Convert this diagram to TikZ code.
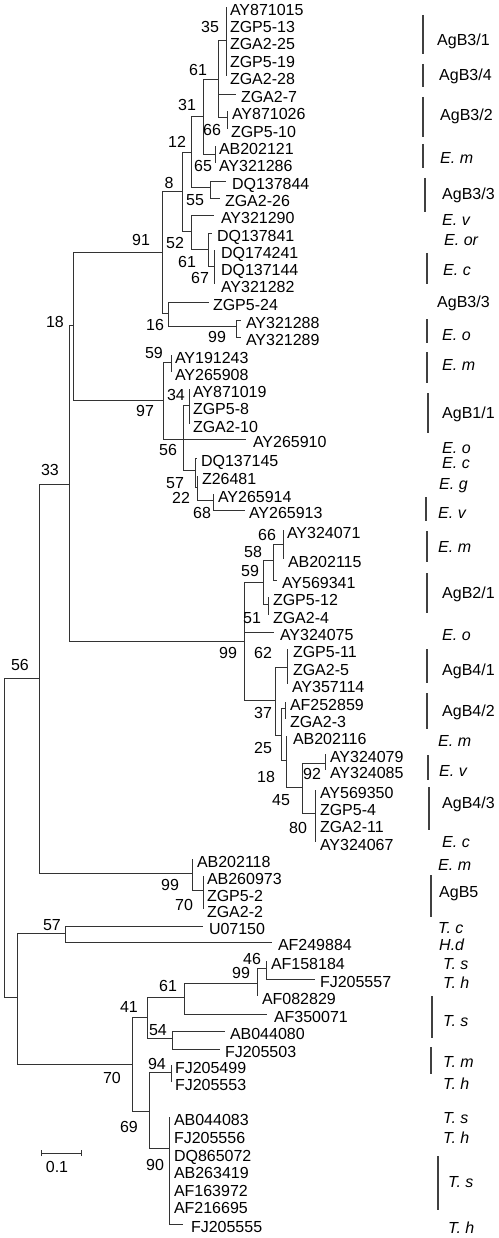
\documentclass[tikz,border=0pt]{standalone}
\usepackage{fontspec}
\setmainfont{Liberation Sans}
\newcommand\lf[5]{\coordinate (#1) at (#2,#3-3); \node[leaf] (#1t) at (#4,#3) {#5};}
\newcommand\brs[2]{\foreach \c in {#2}{\draw[br] (#1) |- (\c);}}
\newcommand\bs[3]{\node[boot] at (#1,#2) {#3};}
\newcommand\gl[4]{\node[#4] at (#1,#2) {#3};}
\newcommand\gb[3]{\draw[bar] (#1,#2) -- (#1,#3);}
\tikzset{
 br/.style={draw=black!80, line width=0.9pt},
 leaf/.style={anchor=west, inner sep=0pt, outer sep=0pt, text height=11.5pt, text depth=0pt, font=\fontsize{16}{18}\selectfont},
 boot/.style={inner sep=0pt, text height=11.5pt, text depth=0pt, font=\fontsize{16}{18}\selectfont},
 grp/.style={anchor=west, inner sep=0pt, text height=11.5pt, text depth=0pt, font=\fontsize{16}{18}\selectfont},
 grpi/.style={grp, font=\fontsize{16}{18}\selectfont\itshape},
 bar/.style={draw=black!75, line width=1.4pt}
}
\begin{document}
\begin{tikzpicture}[x=1pt,y=-1pt]
\useasboundingbox (0,0) rectangle (498,1238);
% internal nodes
\coordinate (U) at (4,837);
\coordinate (S) at (39,678);
\coordinate (Q) at (69,484);
\coordinate (O) at (73,325);
\coordinate (L) at (162,252);
\coordinate (H) at (182,191);
\coordinate (F) at (191,152);
\coordinate (D) at (203,116);
\coordinate (B) at (218,79);
\coordinate (A) at (226,40);
\coordinate (C) at (227,117);
\coordinate (E) at (215,154);
\coordinate (G) at (210,187);
\coordinate (I) at (191,231);
\coordinate (J) at (208,249);
\coordinate (K) at (214,266);
\coordinate (M) at (168,313);
\coordinate (N) at (236,326);
\coordinate (P) at (163,400);
\coordinate (V) at (171,362);
\coordinate (W) at (183,439);
\coordinate (X) at (189,405);
\coordinate (NA) at (195,470);
\coordinate (NB) at (197,487);
\coordinate (AA) at (213,500);
\coordinate (R) at (244,641);
\coordinate (AB) at (263,582);
\coordinate (AD) at (273,560);
\coordinate (AF) at (283,544);
\coordinate (AE) at (268,604);
\coordinate (AC) at (275,700);
\coordinate (AG) at (287,667);
\coordinate (AH) at (281,735);
\coordinate (AI) at (285,708);
\coordinate (AJ) at (286,760);
\coordinate (AK) at (302,787);
\coordinate (AL) at (325,763);
\coordinate (AM) at (315,813);
\coordinate (T) at (192,873);
\coordinate (TT) at (203,890);
\coordinate (VV) at (17,997);
\coordinate (WW) at (65,933);
\coordinate (XX) at (132,1064);
\coordinate (YY) at (147,1017);
\coordinate (AAA) at (184,997);
\coordinate (ACC) at (257,983);
\coordinate (ADD) at (266,968);
\coordinate (ABB) at (172,1038);
\coordinate (ZZ) at (149,1111);
\coordinate (AEE) at (171,1072);
\coordinate (AFF) at (169,1148);
% leaves
\lf{l1}{226}{10}{230}{AY871015}
\lf{l2}{226}{27}{230}{ZGP5-13}
\lf{l3}{226}{44}{230}{ZGA2-25}
\lf{l4}{226}{62}{230}{ZGP5-19}
\lf{l5}{226}{79}{230}{ZGA2-28}
\lf{l6}{236}{97}{241}{ZGA2-7}
\lf{l7}{227}{114}{232}{AY871026}
\lf{l8}{227}{132}{231}{ZGP5-10}
\lf{l9}{215}{149}{219}{AB202121}
\lf{l10}{215}{166}{219}{AY321286}
\lf{l11}{226}{184}{232}{DQ137844}
\lf{l12}{220}{201}{225}{ZGA2-26}
\lf{l13}{214}{218}{221}{AY321290}
\lf{l14}{212}{236}{217}{DQ137841}
\lf{l15}{214}{253}{221}{DQ174241}
\lf{l16}{214}{270}{221}{DQ137144}
\lf{l17}{214}{287}{221}{AY321282}
\lf{l18}{209}{305}{213}{ZGP5-24}
\lf{l19}{241}{323}{246}{AY321288}
\lf{l20}{241}{340}{246}{AY321289}
\lf{l21}{171}{358}{175}{AY191243}
\lf{l22}{171}{375}{175}{AY265908}
\lf{l23}{189}{392}{193}{AY871019}
\lf{l24}{189}{409}{193}{ZGP5-8}
\lf{l25}{189}{427}{193}{ZGA2-10}
\lf{l26}{246}{442}{253}{AY265910}
\lf{l27}{197}{461}{201}{DQ137145}
\lf{l28}{198}{479}{202}{Z26481}
\lf{l29}{213}{497}{218}{AY265914}
\lf{l30}{245}{513}{249}{AY265913}
\lf{l31}{283}{533}{287}{AY324071}
\lf{l32}{283}{562}{288}{AB202115}
\lf{l33}{277}{583}{282}{AY569341}
\lf{l34}{268}{600}{273}{ZGP5-12}
\lf{l35}{268}{618}{273}{ZGA2-4}
\lf{l36}{274}{635}{280}{AY324075}
\lf{l37}{287}{652}{293}{ZGP5-11}
\lf{l38}{287}{670}{293}{ZGA2-5}
\lf{l39}{287}{687}{292}{AY357114}
\lf{l40}{285}{705}{290}{AF252859}
\lf{l41}{285}{722}{290}{ZGA2-3}
\lf{l42}{286}{739}{293}{AB202116}
\lf{l43}{325}{757}{330}{AY324079}
\lf{l44}{325}{773}{330}{AY324085}
\lf{l45}{315}{793}{320}{AY569350}
\lf{l46}{315}{810}{320}{ZGP5-4}
\lf{l47}{315}{827}{320}{ZGA2-11}
\lf{l48}{315}{845}{320}{AY324067}
\lf{l49}{192}{862}{197}{AB202118}
\lf{l50}{203}{879}{207}{AB260973}
\lf{l51}{203}{896}{207}{ZGP5-2}
\lf{l52}{203}{912}{207}{ZGA2-2}
\lf{l53}{203}{929}{209}{U07150}
\lf{l54}{272}{945}{278}{AF249884}
\lf{l55}{266}{964}{271}{AF158184}
\lf{l56}{315}{982}{320}{FJ205557}
\lf{l57}{257}{999}{262}{AF082829}
\lf{l58}{267}{1017}{274}{AF350071}
\lf{l59}{225}{1034}{230}{AB044080}
\lf{l60}{220}{1052}{225}{FJ205503}
\lf{l61}{171}{1068}{175}{FJ205499}
\lf{l62}{171}{1085}{175}{FJ205553}
\lf{l63}{169}{1120}{174}{AB044083}
\lf{l64}{169}{1138}{174}{FJ205556}
\lf{l65}{169}{1156}{174}{DQ865072}
\lf{l66}{169}{1173}{174}{AB263419}
\lf{l67}{169}{1191}{174}{AF163972}
\lf{l68}{169}{1208}{174}{AF216695}
\lf{l69}{183}{1227}{191}{FJ205555}
% branches
\brs{U}{S,VV}
\brs{S}{Q,T}
\brs{Q}{O,R}
\brs{O}{L,P}
\brs{L}{H,M}
\brs{H}{F,I}
\brs{F}{D,G}
\brs{D}{B,E}
\brs{B}{A,l6,C}
\brs{A}{l1,l2,l3,l4,l5}
\brs{C}{l7,l8}
\brs{E}{l9,l10}
\brs{G}{l11,l12}
\brs{I}{l13,J}
\brs{J}{l14,K}
\brs{K}{l15,l16,l17}
\brs{M}{l18,N}
\brs{N}{l19,l20}
\brs{P}{V,W}
\brs{V}{l21,l22}
\brs{W}{X,l26,NA}
\brs{X}{l23,l24,l25}
\brs{NA}{l27,NB}
\brs{NB}{l28,AA}
\brs{AA}{l29,l30}
\brs{R}{AB,l36,AC}
\brs{AB}{AD,AE}
\brs{AD}{AF,l33}
\brs{AF}{l31,l32}
\brs{AE}{l34,l35}
\brs{AC}{AG,AH}
\brs{AG}{l37,l38,l39}
\brs{AH}{AI,AJ}
\brs{AI}{l40,l41}
\brs{AJ}{l42,AK}
\brs{AK}{AL,AM}
\brs{AL}{l43,l44}
\brs{AM}{l45,l46,l47,l48}
\brs{T}{l49,TT}
\brs{TT}{l50,l51,l52}
\brs{VV}{WW,XX}
\brs{WW}{l53,l54}
\brs{XX}{YY,ZZ}
\brs{YY}{AAA,ABB}
\brs{AAA}{ACC,l58}
\brs{ACC}{ADD,l57}
\brs{ADD}{l55,l56}
\brs{ABB}{l59,l60}
\brs{ZZ}{AEE,AFF}
\brs{AEE}{l61,l62}
\brs{AFF}{l63,l64,l65,l66,l67,l68,l69}
% bootstrap values
\bs{210}{27}{35}
\bs{198}{70}{61}
\bs{187}{105}{31}
\bs{212}{130}{66}
\bs{177}{142}{12}
\bs{203}{166}{65}
\bs{169}{183}{8}
\bs{195}{200}{55}
\bs{141}{240}{91}
\bs{175}{243}{52}
\bs{187}{262}{61}
\bs{200}{278}{67}
\bs{55}{322}{18}
\bs{155}{325}{16}
\bs{217}{337}{99}
\bs{154}{353}{59}
\bs{176}{395}{34}
\bs{145}{411}{97}
\bs{168}{450}{56}
\bs{175}{483}{57}
\bs{181}{498}{22}
\bs{202}{513}{68}
\bs{50}{470}{33}
\bs{267}{535}{66}
\bs{253}{552}{58}
\bs{250}{571}{59}
\bs{252}{618}{51}
\bs{228}{653}{99}
\bs{263}{653}{62}
\bs{263}{713}{37}
\bs{263}{748}{25}
\bs{266}{777}{18}
\bs{312}{774}{92}
\bs{281}{800}{45}
\bs{298}{828}{80}
\bs{20}{665}{56}
\bs{170}{885}{99}
\bs{184}{905}{70}
\bs{52}{925}{57}
\bs{252}{959}{46}
\bs{241}{973}{99}
\bs{168}{986}{61}
\bs{129}{1007}{41}
\bs{158}{1030}{54}
\bs{157}{1064}{94}
\bs{112}{1078}{70}
\bs{129}{1127}{69}
\bs{155}{1165}{90}
% scale bar
\coordinate (sb1) at (41,1153);
\coordinate (sb2) at (81,1153);
\draw[br] (sb1) -- (sb2);
\draw[br] ([yshift=-3pt]sb1) -- ([yshift=3pt]sb1);
\draw[br] ([yshift=-3pt]sb2) -- ([yshift=3pt]sb2);
\node[boot] (sbl) at (57,1167) {0.1};
% group bars
\gb{423}{15}{54}
\gb{423}{64}{87}
\gb{423}{97}{137}
\gb{423}{144}{168}
\gb{425}{178}{212}
\gb{427}{253}{284}
\gb{427}{319}{343}
\gb{427}{352}{383}
\gb{428}{393}{433}
\gb{426}{497}{521}
\gb{427}{531}{562}
\gb{427}{573}{613}
\gb{427}{649}{683}
\gb{427}{693}{729}
\gb{428}{755}{780}
\gb{429}{787}{830}
\gb{431}{875}{917}
\gb{432}{996}{1038}
\gb{431}{1047}{1074}
\gb{438}{1156}{1210}
% group labels
\gl{437}{40}{AgB3/1}{grp}
\gl{439}{75}{AgB3/4}{grp}
\gl{440}{115}{AgB3/2}{grp}
\gl{440}{158}{E. m}{grpi}
\gl{442}{194}{AgB3/3}{grp}
\gl{442}{220}{E. v}{grpi}
\gl{444}{240}{E. or}{grpi}
\gl{443}{270}{E. c}{grpi}
\gl{437}{302}{AgB3/3}{grp}
\gl{442}{335}{E. o}{grpi}
\gl{442}{365}{E. m}{grpi}
\gl{442}{413}{AgB1/1}{grp}
\gl{442}{448}{E. o}{grpi}
\gl{442}{463}{E. c}{grpi}
\gl{439}{484}{E. g}{grpi}
\gl{438}{513}{E. v}{grpi}
\gl{438}{547}{E. m}{grpi}
\gl{442}{593}{AgB2/1}{grp}
\gl{442}{635}{E. o}{grpi}
\gl{442}{670}{AgB4/1}{grp}
\gl{442}{711}{AgB4/2}{grp}
\gl{438}{741}{E. m}{grpi}
\gl{439}{771}{E. v}{grpi}
\gl{442}{803}{AgB4/3}{grp}
\gl{442}{842}{E. c}{grpi}
\gl{438}{865}{E. m}{grpi}
\gl{439}{892}{AgB5}{grp}
\gl{438}{928}{T. c}{grpi}
\gl{439}{945}{H.d}{grpi}
\gl{443}{964}{T. s}{grpi}
\gl{443}{983}{T. h}{grpi}
\gl{443}{1021}{T. s}{grpi}
\gl{443}{1062}{T. m}{grpi}
\gl{443}{1084}{T. h}{grpi}
\gl{443}{1118}{T. s}{grpi}
\gl{443}{1138}{T. h}{grpi}
\gl{448}{1182}{T. s}{grpi}
\gl{448}{1228}{T. h}{grpi}
\end{tikzpicture}
\end{document}
